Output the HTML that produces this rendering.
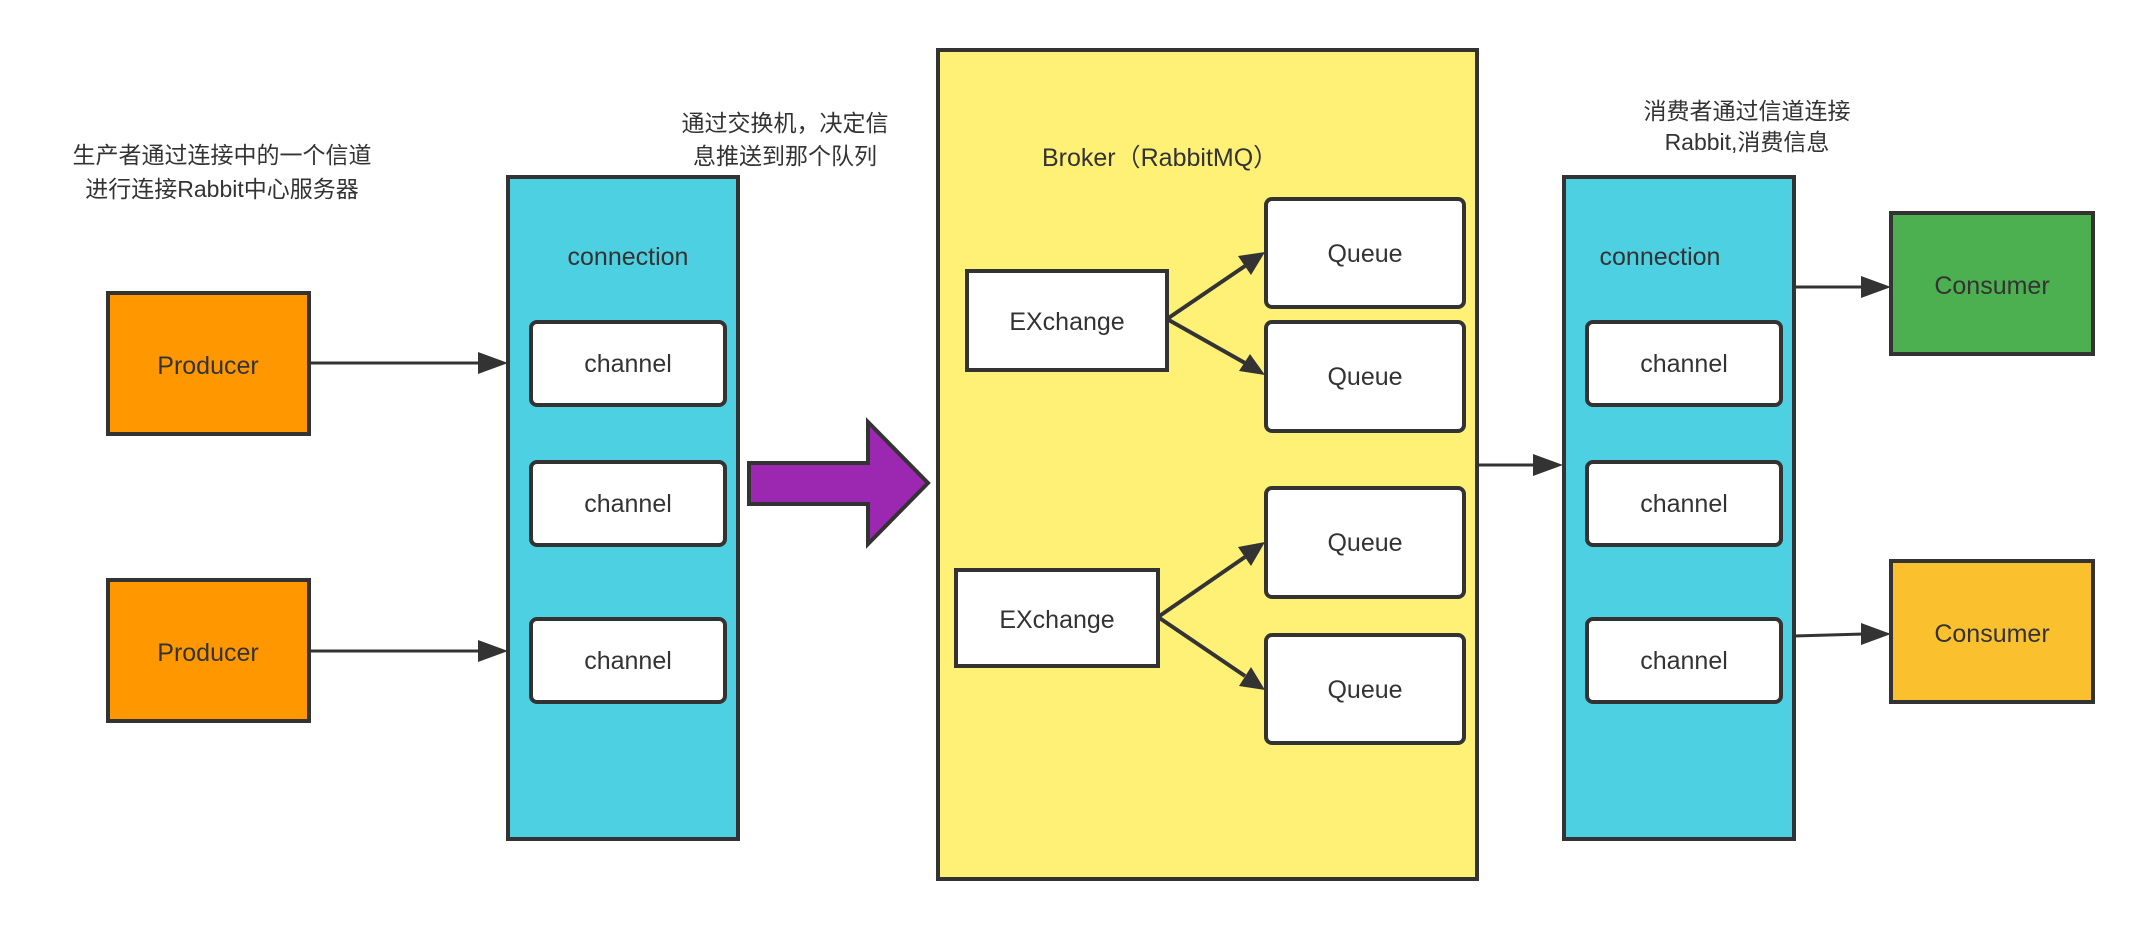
<!DOCTYPE html>
<html><head><meta charset="utf-8"><style>
html,body{margin:0;padding:0;background:#fff;}
svg text{font-family:"Liberation Sans","Noto Sans CJK SC",sans-serif;fill:#333;}
</style></head><body>
<svg width="2142" height="926" viewBox="0 0 2142 926" xmlns="http://www.w3.org/2000/svg">
<defs>
<marker id="a" markerWidth="10" markerHeight="10" refX="9" refY="5" orient="auto" markerUnits="userSpaceOnUse" viewBox="0 0 10 10">
</marker>
</defs>
<g stroke="#333" stroke-width="4">
<!-- texts -->
</g>
<text x="222" y="163" font-size="23" text-anchor="middle">生产者通过连接中的一个信道</text>
<text x="222" y="197" font-size="23" text-anchor="middle">进行连接Rabbit中心服务器</text>
<text x="785" y="131" font-size="23" text-anchor="middle">通过交换机，决定信</text>
<text x="785" y="164" font-size="23" text-anchor="middle">息推送到那个队列</text>
<text x="1747" y="119" font-size="23" text-anchor="middle">消费者通过信道连接</text>
<text x="1747" y="150" font-size="23" text-anchor="middle">Rabbit,消费信息</text>

<!-- producers -->
<rect x="108" y="293" width="201" height="141" fill="#ff9800" stroke="#333" stroke-width="4"/>
<text x="208" y="374" font-size="25" text-anchor="middle">Producer</text>
<rect x="108" y="580" width="201" height="141" fill="#ff9800" stroke="#333" stroke-width="4"/>
<text x="208" y="661" font-size="25" text-anchor="middle">Producer</text>

<!-- connection left -->
<rect x="508" y="177" width="230" height="662" fill="#4dd0e1" stroke="#333" stroke-width="4"/>
<text x="628" y="265" font-size="25" text-anchor="middle">connection</text>
<rect x="531" y="322" width="194" height="83" rx="6" fill="#fff" stroke="#333" stroke-width="4"/>
<text x="628" y="372" font-size="25" text-anchor="middle">channel</text>
<rect x="531" y="462" width="194" height="83" rx="6" fill="#fff" stroke="#333" stroke-width="4"/>
<text x="628" y="512" font-size="25" text-anchor="middle">channel</text>
<rect x="531" y="619" width="194" height="83" rx="6" fill="#fff" stroke="#333" stroke-width="4"/>
<text x="628" y="669" font-size="25" text-anchor="middle">channel</text>

<!-- producer arrows -->
<line x1="309" y1="363" x2="480" y2="363" stroke="#333" stroke-width="3"/>
<polygon points="508,363 478,352 478,374" fill="#333"/>
<line x1="309" y1="651" x2="480" y2="651" stroke="#333" stroke-width="3"/>
<polygon points="508,651 478,640 478,662" fill="#333"/>

<!-- purple arrow -->
<polygon points="749,463 868,463 868,422 928,483 868,544 868,504 749,504" fill="#9c27b0" stroke="#333" stroke-width="4"/>

<!-- broker -->
<rect x="938" y="50" width="539" height="829" fill="#fff176" stroke="#333" stroke-width="4"/>
<text x="1042" y="166" font-size="25">Broker（RabbitMQ）</text>
<rect x="967" y="271" width="200" height="99" fill="#fff" stroke="#333" stroke-width="4"/>
<text x="1067" y="330" font-size="25" text-anchor="middle">EXchange</text>
<rect x="956" y="570" width="202" height="96" fill="#fff" stroke="#333" stroke-width="4"/>
<text x="1057" y="628" font-size="25" text-anchor="middle">EXchange</text>
<rect x="1266" y="199" width="198" height="108" rx="6" fill="#fff" stroke="#333" stroke-width="4"/>
<text x="1365" y="262" font-size="25" text-anchor="middle">Queue</text>
<rect x="1266" y="322" width="198" height="109" rx="6" fill="#fff" stroke="#333" stroke-width="4"/>
<text x="1365" y="385" font-size="25" text-anchor="middle">Queue</text>
<rect x="1266" y="488" width="198" height="109" rx="6" fill="#fff" stroke="#333" stroke-width="4"/>
<text x="1365" y="551" font-size="25" text-anchor="middle">Queue</text>
<rect x="1266" y="635" width="198" height="108" rx="6" fill="#fff" stroke="#333" stroke-width="4"/>
<text x="1365" y="698" font-size="25" text-anchor="middle">Queue</text>

<!-- exchange arrows -->
<g stroke="#333" stroke-width="4">
<line x1="1167" y1="319" x2="1245" y2="266"/>
<line x1="1167" y1="319" x2="1245" y2="363"/>
<line x1="1158" y1="617" x2="1245" y2="557"/>
<line x1="1158" y1="617" x2="1245" y2="676"/>
</g>
<polygon points="1265,252 1238,256 1251,275" fill="#333"/>
<polygon points="1265,375 1239,371 1250,354" fill="#333"/>
<polygon points="1265,542 1238,547 1251,566" fill="#333"/>
<polygon points="1265,690 1239,686 1251,667" fill="#333"/>

<!-- broker to connection R -->
<line x1="1477" y1="465" x2="1536" y2="465" stroke="#333" stroke-width="3"/>
<polygon points="1563,465 1533,454 1533,476" fill="#333"/>

<!-- connection right -->
<rect x="1564" y="177" width="230" height="662" fill="#4dd0e1" stroke="#333" stroke-width="4"/>
<text x="1660" y="265" font-size="25" text-anchor="middle">connection</text>
<rect x="1587" y="322" width="194" height="83" rx="6" fill="#fff" stroke="#333" stroke-width="4"/>
<text x="1684" y="372" font-size="25" text-anchor="middle">channel</text>
<rect x="1587" y="462" width="194" height="83" rx="6" fill="#fff" stroke="#333" stroke-width="4"/>
<text x="1684" y="512" font-size="25" text-anchor="middle">channel</text>
<rect x="1587" y="619" width="194" height="83" rx="6" fill="#fff" stroke="#333" stroke-width="4"/>
<text x="1684" y="669" font-size="25" text-anchor="middle">channel</text>

<!-- consumers -->
<rect x="1891" y="213" width="202" height="141" fill="#4caf50" stroke="#333" stroke-width="4"/>
<text x="1992" y="294" font-size="25" text-anchor="middle">Consumer</text>
<rect x="1891" y="561" width="202" height="141" fill="#fbc02d" stroke="#333" stroke-width="4"/>
<text x="1992" y="642" font-size="25" text-anchor="middle">Consumer</text>
<line x1="1794" y1="287" x2="1864" y2="287" stroke="#333" stroke-width="3"/>
<polygon points="1891,287 1861,276 1861,298" fill="#333"/>
<line x1="1794" y1="636" x2="1864" y2="634" stroke="#333" stroke-width="3"/>
<polygon points="1891,634 1861,623 1861,645" fill="#333"/>
</svg>
</body></html>
